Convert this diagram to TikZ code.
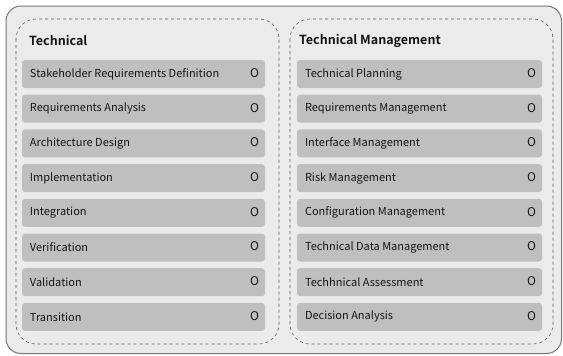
\documentclass[tikz,border=0pt]{standalone}
\usepackage{fontspec}
\setmainfont{Noto Sans CJK KR}[BoldFont={Noto Sans CJK KR Bold}]
\usetikzlibrary{positioning}

\definecolor{framebg}{HTML}{EBEBEB}
\definecolor{frameline}{HTML}{7A7A7A}
\definecolor{groupline}{HTML}{5A5A5A}
\definecolor{itembg}{HTML}{BFBFBF}
\definecolor{itemtext}{HTML}{151515}

\begin{document}
\begin{tikzpicture}[x=1pt,y=-1pt,font=\fontsize{11}{13}\selectfont,text=itemtext,
  group/.style={draw=groupline,dashed,rounded corners=20pt,line width=0.6pt},
  title/.style={anchor=west,font=\fontsize{12.5}{15}\selectfont\bfseries,inner sep=0pt},
  item/.style={fill=itembg,rounded corners=3pt,minimum width=243pt,minimum height=28pt,inner sep=0pt},
  lbl/.style={anchor=west,inner sep=0pt},
  check/.style={anchor=east,inner sep=0pt,font=\fontsize{12}{14}\selectfont}]
\useasboundingbox (0,0) rectangle (563,356);
% outer frame and the two dashed groups
\draw[fill=framebg,draw=frameline,line width=1pt,rounded corners=15pt] (6,6) rectangle (561.5,353.5);
\draw[group] (16,19) rectangle (279,344);
\draw[group] (290,19) rectangle (553,344);
\node[title] (techtitle) at (29,41) {Technical};
\node[title] (mgmttitle) at (299,41) {Technical Management};
% technical processes
\foreach \name [count=\i] in {Stakeholder Requirements Definition,Requirements Analysis,Architecture Design,Implementation,Integration,Verification,Validation,Transition}{
  \node[item] (tech\i) at (143.5,{74+(\i-1)*34.7}) {};
  \node[lbl] (techl\i) at ([xshift=8pt]tech\i.west) {\name};
  \node[check] (techo\i) at ([xshift=-6pt,yshift=1pt]tech\i.east) {O};
}
% technical management processes
\foreach \name [count=\i] in {Technical Planning,Requirements Management,Interface Management,Risk Management,Configuration Management,Technical Data Management,Techhnical Assessment,Decision Analysis}{
  \node[item,minimum width=245pt] (mgmt\i) at (419.5,{74+(\i-1)*34.7}) {};
  \node[lbl] (mgmtl\i) at ([xshift=8pt]mgmt\i.west) {\name};
  \node[check] (mgmto\i) at ([xshift=-6pt,yshift=1pt]mgmt\i.east) {O};
}
\end{tikzpicture}
\end{document}
